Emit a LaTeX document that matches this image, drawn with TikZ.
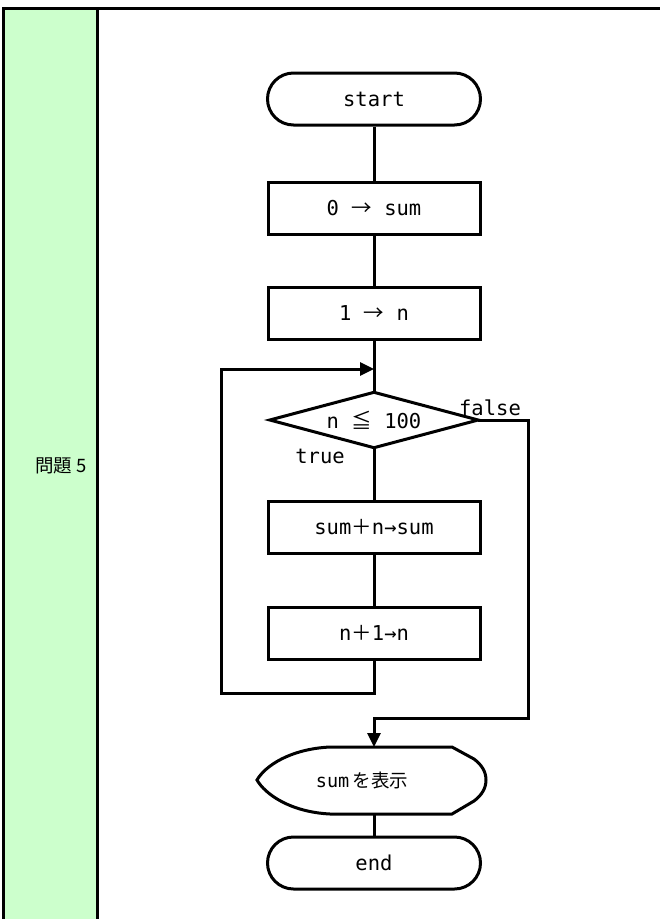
\documentclass[tikz,border=0pt]{standalone}
\usepackage{fontspec}
\usetikzlibrary{arrows.meta}
\newfontfamily\cjk{Noto Sans CJK JP}
\newfontfamily\mono{DejaVu Sans Mono}
\definecolor{sidegreen}{RGB}{204,255,204}
\begin{document}
\begin{tikzpicture}[x=1pt,y=-1pt,
  every node/.style={inner sep=0pt},
  ln/.style={line width=3pt},
  txt/.style={font=\mono\fontsize{20.5}{24}\selectfont},
  term/.style={draw,ln,txt,rounded corners=26pt,minimum width=213pt,minimum height=52pt},
  proc/.style={draw,ln,txt,minimum width=212pt,minimum height=52pt},
  dec/.style={txt,minimum width=208pt,minimum height=55pt},
  arr/.style={ln,-{Triangle[length=14pt,width=13pt]}}]
\useasboundingbox (0,0) rectangle (660,919);
% frame
\fill[sidegreen] (3,8) rectangle (97,919);
\draw[ln] (3,919) -- (3,8) -- (661,8);
\draw[ln] (97,8) -- (97,919);
\node[font=\cjk\fontsize{18.5}{22}\selectfont] (q) at (61,466) {問題 5};
% nodes
\node[term] (start) at (374,99) {start};
\node[proc] (b1) at (374,208) {0 {\cjk →} sum};
\node[proc] (b2) at (374,313) {1 {\cjk →} n};
\node[dec] (dia) at (374,420) {n {\cjk ≦} 100};
\draw[ln] (dia.west) -- (dia.north) -- (dia.east) -- (dia.south) -- cycle;
\node[proc] (b3) at (374,527) {sum{\cjk ＋}n→sum};
\node[proc] (b4) at (374,633) {n{\cjk ＋}1→n};
\node (disp) at (362,780) {{\mono\fontsize{18.5}{22}\selectfont sum} {\cjk\fontsize{18.5}{22}\selectfont を表示}};
\draw[ln] (330,747) .. controls (290,749) and (265,766) .. (257,780)
  .. controls (265,794) and (290,812) .. (330,814) -- (452,814) -- (474,801)
  .. controls (482,795) and (486,788) .. (486,780)
  .. controls (486,772) and (482,765) .. (474,759) -- (452,747) -- cycle;
\coordinate (disptop) at (374,747);
\coordinate (dispbot) at (374,814);
\node[term] (end) at (374,863) {end};
\node[txt] (f) at (490,408) {false};
\node[txt] (t) at (320,456) {true};
% connectors
\draw[ln] (start.south) -- (b1.north);
\draw[ln] (b1.south) -- (b2.north);
\draw[ln] (b2.south) -- (dia.north);
\draw[ln] (dia.south) -- (b3.north);
\draw[ln] (b3.south) -- (b4.north);
\coordinate (lb) at (221,693);
\coordinate (lt) at (221,369);
\coordinate (lm) at (374,369);
\draw[arr] (b4.south) |- (lb) -- (lt) -- (lm);
\coordinate (fr) at (528,420);
\coordinate (fb) at (528,718);
\coordinate (fl) at (374,718);
\draw[arr] (dia.east) -- (fr) -- (fb) -- (fl) -- (disptop);
\draw[ln] (dispbot) -- (end.north);
\end{tikzpicture}
\end{document}
